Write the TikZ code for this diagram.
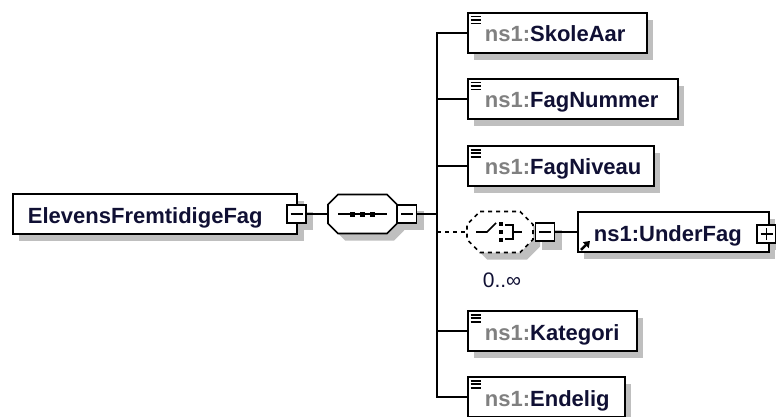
\documentclass[tikz,border=0pt]{standalone}
\usepackage{fontspec}
\setmainfont{Liberation Sans}
\usetikzlibrary{arrows.meta}
\definecolor{nsgray}{HTML}{808080}
\definecolor{namecol}{HTML}{101034}
% #1 node, #2 chamfer, #3 path options, #4 extra coordinate shift
\newcommand{\octa}[4]{\path[#3] ([#4,xshift=#2pt]#1.north west) -- ([#4,xshift=-#2pt]#1.north east) -- ([#4,yshift=-#2pt]#1.north east) -- ([#4,yshift=#2pt]#1.south east) -- ([#4,xshift=-#2pt]#1.south east) -- ([#4,xshift=#2pt]#1.south west) -- ([#4,yshift=#2pt]#1.south west) -- ([#4,yshift=-#2pt]#1.north west) -- cycle;}
\newcommand{\nsp}{{\color{nsgray}ns1:}}
\tikzset{
  elem/.style={draw=black, line width=1.8pt, fill=white, minimum height=40pt, anchor=west,
    inner xsep=17pt, inner ysep=0pt, align=left, text height=22pt, text depth=4pt,
    font=\bfseries\fontsize{22pt}{26pt}\selectfont, text=namecol},
  sqbox/.style={draw=black, line width=1.6pt, fill=white, minimum width=19pt, minimum height=18pt, inner sep=0pt},
  anchorbox/.style={inner sep=0pt, outer sep=0pt},
  conn/.style={line width=1.6pt, draw=black},
  dconn/.style={conn, dash pattern=on 4pt off 4pt},
  icon/.style={line width=1.6pt},
  shadowrect/.style={fill=black!25, draw=none}
}
\begin{document}
\begin{tikzpicture}[x=1pt,y=-1pt]
\path[fill=white] (0,0) rectangle (776,417);
\useasboundingbox (0,0) rectangle (776,417);
\node[anchorbox, minimum width=69pt, minimum height=39pt] (seq) at (362.5,214) {};
\node[anchorbox, minimum width=66pt, minimum height=41pt] (choice) at (500,232) {};
\coordinate (jn) at (437,214);
% shadows first
\path[shadowrect] (19,201) rectangle (304,241);
\path[shadowrect] (294,212) rectangle (313,230);
\path[shadowrect] (404,211) rectangle (424,230);
\path[shadowrect] (542,230) rectangle (562,250);
\path[shadowrect] (764,232) rectangle (776,250);
\octa{seq}{10}{shadowrect}{xshift=7pt,yshift=-7pt}
\octa{choice}{13}{shadowrect}{xshift=7pt,yshift=-7pt}
\path[shadowrect] (474,20) rectangle (653,60);
\path[shadowrect] (474,86) rectangle (684,126);
\path[shadowrect] (474,153) rectangle (660,193);
\path[shadowrect] (584,219) rectangle (775,259);
\path[shadowrect] (474,318) rectangle (643,358);
\path[shadowrect] (474,384) rectangle (631,424);
% root
\node[elem, text width=254pt, inner xsep=15pt] (root) at (12,214) {ElevensFremtidigeFag};
\node[sqbox] (rootm) at (296.5,214) {};
\draw[icon] ([xshift=-6pt]rootm.center) -- ([xshift=6pt]rootm.center);
% sequence
\octa{seq}{10}{draw=black, line width=1.6pt, fill=white}{}
\begin{scope}[shift={(seq.center)}]
  \draw[icon] (-24.5,0) -- (24.5,0);
  \fill (-12.5,-2.5) rectangle (-7.5,2.5);
  \fill (-2.5,-2.5) rectangle (2.5,2.5);
  \fill (7.5,-2.5) rectangle (12.5,2.5);
\end{scope}
\node[sqbox] (seqm) at (407,214) {};
\draw[icon] ([xshift=-6pt]seqm.center) -- ([xshift=6pt]seqm.center);
% children
\node[elem, text width=145pt] (skole) at (467,33) {\nsp SkoleAar};
\node[elem, text width=176pt] (fagnum) at (467,99) {\nsp FagNummer};
\node[elem, text width=152pt] (fagniv) at (467,166) {\nsp FagNiveau};
\node[elem, text width=135pt] (kat) at (467,331) {\nsp Kategori};
\node[elem, text width=123pt] (endelig) at (467,397) {\nsp Endelig};
\foreach \n in {skole,fagnum,fagniv,kat,endelig}{
  \draw[line width=1.8pt] ([xshift=3.5pt,yshift=-4.5pt]\n.north west) -- ++(10,0);
  \draw[line width=1.8pt] ([xshift=3.5pt,yshift=-8pt]\n.north west) -- ++(10,0);
  \draw[line width=1.8pt] ([xshift=3.5pt,yshift=-11.5pt]\n.north west) -- ++(10,0);
}
% choice
\octa{choice}{13}{draw=black, line width=1.6pt, dash pattern=on 4pt off 4pt, fill=white}{}
\begin{scope}[shift={(choice.center)}]
  \draw[icon] (-24,0) -- (-13,0) -- (-4,-9);
  \fill (-1,-10) rectangle (3,-6);
  \fill (-1,-2) rectangle (3,2);
  \fill (-1,6) rectangle (3,10);
  \draw[icon] (5,-7) -- (13,-7) -- (13,7) -- (5,7);
  \draw[icon] (13,0) -- (22,0);
\end{scope}
\node[sqbox] (choicem) at (545,232) {};
\draw[icon] ([xshift=-6pt]choicem.center) -- ([xshift=6pt]choicem.center);
\node[elem, text width=159pt, inner xsep=16pt] (under) at (577,232) {ns1:UnderFag};
\draw[line width=2.6pt, -{Triangle[length=6pt,width=8pt]}] ([xshift=4pt,yshift=3pt]under.south west) -- ([xshift=13pt,yshift=12pt]under.south west);
\node[sqbox] (underp) at (766.5,234) {};
\draw[icon] ([xshift=-6pt]underp.center) -- ([xshift=6pt]underp.center);
\draw[icon] ([yshift=-6pt]underp.center) -- ([yshift=6pt]underp.center);
\node[font=\fontsize{21pt}{24pt}\selectfont, text=namecol, inner sep=0pt] (mult) at (502,280) {0..∞};
% connectors
\draw[conn] (rootm.east) -- (seq.west);
\draw[conn] (seqm.east) -- (jn);
\foreach \n in {skole,fagnum,fagniv,kat,endelig}{ \draw[conn] (jn) |- (\n.west); }
\draw[dconn] (jn |- choice.west) -- (choice.west);
\draw[conn] (choicem.east) -- (under.west);
\end{tikzpicture}
\end{document}
